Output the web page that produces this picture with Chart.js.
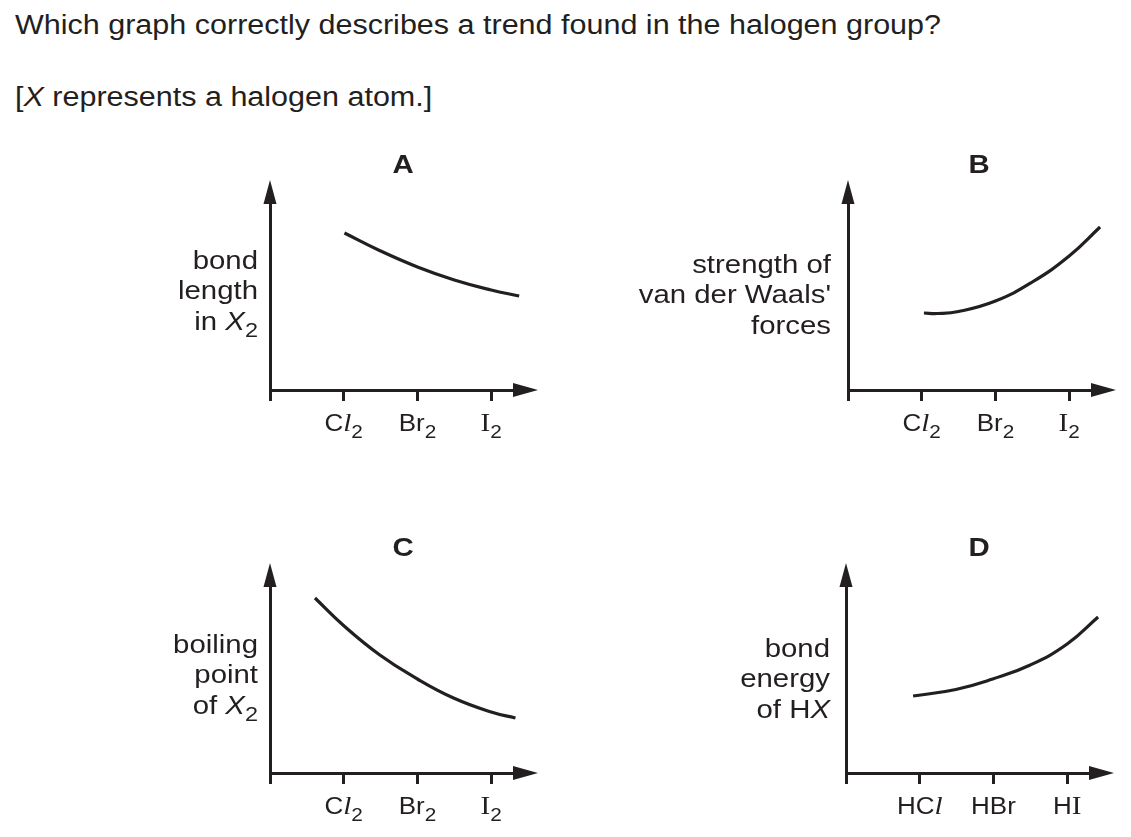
<!DOCTYPE html>
<html><head><meta charset="utf-8">
<script src="https://cdn.jsdelivr.net/npm/chart.js@4.4.1/dist/chart.umd.min.js"></script>
<style>
html,body{margin:0;padding:0;background:#fff;width:1131px;height:837px;overflow:hidden;}
.q{position:absolute;left:15px;font-family:"Liberation Sans",Arial,sans-serif;font-size:27px;line-height:27px;color:#231f20;white-space:nowrap;transform-origin:0 0;transform:scaleX(1.13);}
canvas{position:absolute;}
</style></head><body>
<div class="q" style="top:12px">Which graph correctly describes a trend found in the halogen group?</div>
<div class="q" style="top:84px">[<i>X</i> represents a halogen atom.]</div>
<canvas id="cA"></canvas><canvas id="cB"></canvas><canvas id="cC"></canvas><canvas id="cD"></canvas>
<script>
// ---------- data ----------
const panelTitles = ["A", "B", "C", "D"];
const tickPositions = [1, 2, 3];
const halogenTicks = ["C<si>l</si>_2", "Br_2", "<s>I</s>_2"];
const hydrogenHalideTicks = ["HC<si>l</si>", "HBr", "H<s>I</s>"];
const yLabelA = ["bond", "length", "in <i>X</i>_2"];
const yLabelB = ["strength of", "van der Waals'", "forces"];
const yLabelC = ["boiling", "point", "of <i>X</i>_2"];
const yLabelD = ["bond", "energy", "of H<i>X</i>"];
const curveAx = [1.01, 1.5, 2.0, 2.5, 3.0, 3.38];
const curveAy = [157, 139, 123, 110, 100, 94];
const curveBx = [1.03, 1.21, 1.50, 2.0, 2.5, 3.0, 3.42];
const curveBy = [77, 76.5, 78.5, 89, 108, 134, 163];
const curveCx = [0.61, 0.99, 1.49, 2.0, 2.49, 3.0, 3.33];
const curveCy = [175, 148, 118, 94, 75, 61, 55];
const curveDx = [0.91, 1.49, 1.99, 2.5, 3.0, 3.42];
const curveDy = [77, 83.5, 94, 108, 129, 156];
const xMax = 3.31, yMax = 187;

// ---------- layout / style ----------
const INK = '#231f20';
const SX = 1.13;
const AREA_W = 244, AREA_H = 187;
const PAD = {left: 230, top: 70, right: 40, bottom: 60};
const TICK_LEN = 11;
const panels = [
  {id: 'cA', title: panelTitles[0], xs: curveAx, ys: curveAy, ticks: halogenTicks, yLabel: yLabelA, left: 270, top: 203, gap: 12, mid: -91, titleDx: 133},
  {id: 'cB', title: panelTitles[1], xs: curveBx, ys: curveBy, ticks: halogenTicks, yLabel: yLabelB, left: 848, top: 203, gap: 17, mid: -87, titleDx: 131},
  {id: 'cC', title: panelTitles[2], xs: curveCx, ys: curveCy, ticks: halogenTicks, yLabel: yLabelC, left: 270, top: 586, gap: 12, mid: -90, titleDx: 133},
  {id: 'cD', title: panelTitles[3], xs: curveDx, ys: curveDy, ticks: hydrogenHalideTicks, yLabel: yLabelD, left: 846, top: 586, gap: 16, mid: -86, titleDx: 133}
];

function parseRich(str) {
  const out = []; const re = /<(i|si|s)>(.*?)<\/\1>|_(\d+)|([^<_]+)/g; let m;
  while ((m = re.exec(str))) {
    if (m[1]) out.push({text: m[2], style: m[1], sub: false});
    else if (m[3]) out.push({text: m[3], style: 'sans', sub: true});
    else out.push({text: m[4], style: 'sans', sub: false});
  }
  return out;
}
function fontFor(style, size, bold) {
  const fam = (style === 'si' || style === 's') ? '"Liberation Serif","Times New Roman",serif' : '"Liberation Sans",Arial,sans-serif';
  const it = (style === 'i' || style === 'si') ? 'italic ' : '';
  return it + (bold ? 'bold ' : '') + size + 'px ' + fam;
}
function drawRich(ctx, str, x, y, size, align, bold) {
  const segs = parseRich(str);
  let w = 0;
  const items = segs.map(s => {
    let sz = s.sub ? size * 0.8 : size;
    if (s.style === 's' || s.style === 'si') sz *= 1.12;
    ctx.font = fontFor(s.style, sz, bold);
    const sw = ctx.measureText(s.text).width * SX;
    w += sw;
    return Object.assign({}, s, {sz, sw});
  });
  let cx = align === 'right' ? x - w : align === 'center' ? x - w / 2 : x;
  for (const it of items) {
    ctx.save();
    ctx.font = fontFor(it.style, it.sz, bold);
    ctx.fillStyle = INK; ctx.textBaseline = 'alphabetic'; ctx.textAlign = 'left';
    ctx.translate(cx, y + (it.sub ? size * 0.3 : 0));
    ctx.scale(SX, 1);
    ctx.fillText(it.text, 0, 0);
    ctx.restore();
    cx += it.sw;
  }
}

const decorPlugin = {
  id: 'decor',
  afterDraw(chart, args, opts) {
    const p = opts.panel;
    const ctx = chart.ctx, a = chart.chartArea, xs = chart.scales.x;
    ctx.save();
    ctx.fillStyle = INK;
    // arrow on x axis
    ctx.beginPath();
    ctx.moveTo(a.right - 1, a.bottom - 7);
    ctx.lineTo(a.right + 24, a.bottom);
    ctx.lineTo(a.right - 1, a.bottom + 7);
    ctx.closePath(); ctx.fill();
    // arrow on y axis
    ctx.beginPath();
    ctx.moveTo(a.left - 6.5, a.top + 1);
    ctx.lineTo(a.left, a.top - 23);
    ctx.lineTo(a.left + 6.5, a.top + 1);
    ctx.closePath(); ctx.fill();
    ctx.restore();
    // tick labels
    p.ticks.forEach((t, i) => drawRich(ctx, t, xs.getPixelForValue(tickPositions[i]), a.bottom + 41, 23, 'center'));
    // y-axis label
    const lh = 30.5;
    const n = p.yLabel.length;
    p.yLabel.forEach((t, i) => drawRich(ctx, t, a.left - p.gap, a.bottom + p.mid + (i - (n - 1) / 2) * lh, 26, 'right'));
    // panel title
    drawRich(ctx, p.title, a.left + p.titleDx, a.top - 30, 26, 'center', true);
  }
};

panels.forEach(p => {
  const cv = document.getElementById(p.id);
  const W = PAD.left + AREA_W + PAD.right, H = PAD.top + AREA_H + PAD.bottom;
  cv.width = W; cv.height = H;
  cv.style.left = (p.left - PAD.left) + 'px';
  cv.style.top = (p.top - PAD.top) + 'px';
  cv.style.width = W + 'px'; cv.style.height = H + 'px';
  new Chart(cv, {
    type: 'line',
    data: {datasets: [{
      data: p.xs.map((x, i) => ({x, y: p.ys[i]})),
      borderColor: INK, borderWidth: 3.2, pointRadius: 0, fill: false,
      tension: 0.45, clip: false
    }]},
    options: {
      responsive: false, animation: false, devicePixelRatio: 1,
      layout: {autoPadding: false, padding: {left: PAD.left, top: PAD.top, right: PAD.right, bottom: PAD.bottom - TICK_LEN}},
      plugins: {legend: {display: false}, tooltip: {enabled: false}, decor: {panel: p}},
      scales: {
        x: {type: 'linear', min: 0, max: xMax,
            afterBuildTicks: s => { s.ticks = [0].concat(tickPositions).map(v => ({value: v})); },
            ticks: {display: false},
            grid: {display: true, drawOnChartArea: false, drawTicks: true, tickLength: TICK_LEN, tickWidth: 3, tickColor: INK, color: INK, lineWidth: 3},
            border: {display: true, width: 3, color: INK}},
        y: {type: 'linear', min: 0, max: yMax,
            ticks: {display: false},
            grid: {display: false, drawTicks: false},
            border: {display: true, width: 3, color: INK}}
      }
    },
    plugins: [decorPlugin]
  });
});
</script>
</body></html>
